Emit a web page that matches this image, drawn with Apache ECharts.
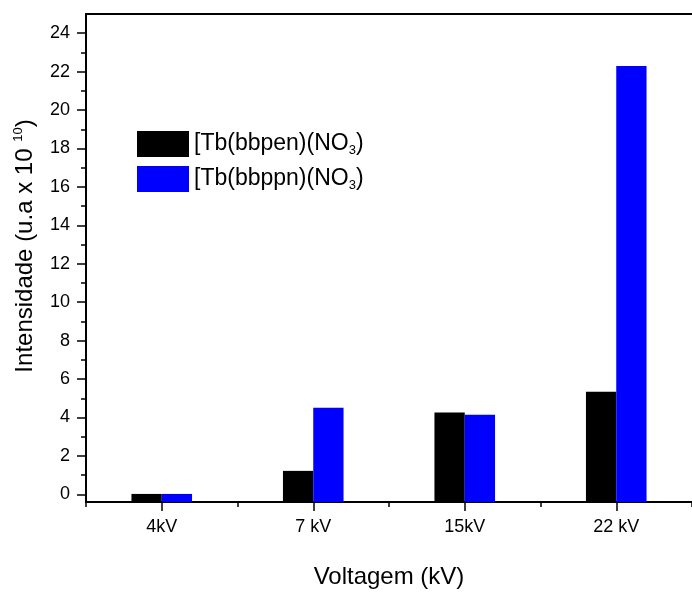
<!DOCTYPE html>
<html>
<head>
<meta charset="utf-8">
<script src="https://cdn.jsdelivr.net/npm/echarts@6/dist/echarts.min.js"></script>
<style>
  html, body { margin: 0; padding: 0; background: #fff; }
  #chart { width: 692px; height: 594px; }
</style>
</head>
<body>
<div id="chart"></div>
<script>
// Voltage steps on the x axis
const voltages = ['4kV', '7 kV', '15kV', '22 kV'];

// Emission intensity (u.a x 10^10) for each complex
const seriesNames = ['[Tb(bbpen)(NO3)', '[Tb(bbppn)(NO3)'];
const bbpenValues = [0.02, 1.22, 4.26, 5.34];
const bbppnValues = [0.02, 4.50, 4.14, 22.29];

// Y axis range, labelled ticks and minor ticks
const yMin = -0.4;
const yMax = 25;
const yMajorTicks = [0, 2, 4, 6, 8, 10, 12, 14, 16, 18, 20, 22, 24];
const yMinorTicks = [1, 3, 5, 7, 9, 11, 13, 15, 17, 19, 21, 23];

const FONT = '"Liberation Sans", Arial, sans-serif';
const AXIS_LINE = { show: true, onZero: false, lineStyle: { color: '#000', width: 2 } };
const TICK_STYLE = { color: '#000', width: 1.5 };

const chart = echarts.init(document.getElementById('chart'), null, { renderer: 'canvas' });

// "NO3" -> NO with subscript 3
function withSubscript(name) {
  return name.replace('NO3', 'NO{sub|3}');
}

chart.setOption({
  animation: false,
  backgroundColor: '#fff',
  textStyle: { fontFamily: FONT },
  grid: { left: 86, top: 14, width: 615, bottom: 87, containLabel: false },
  legend: {
    data: seriesNames,
    orient: 'vertical',
    left: 132,
    top: 126,
    itemWidth: 52,
    itemHeight: 26,
    itemGap: 9,
    icon: 'rect',
    formatter: withSubscript,
    textStyle: {
      fontFamily: FONT,
      fontSize: 23,
      lineHeight: 26,
      color: '#000',
      rich: {
        sub: { fontFamily: FONT, fontSize: 13, color: '#000', verticalAlign: 'bottom', lineHeight: 26, padding: [12, 0, 0, 0] }
      }
    }
  },
  xAxis: [
    {
      type: 'category',
      data: voltages,
      boundaryGap: true,
      axisLine: AXIS_LINE,
      axisTick: { show: true, alignWithLabel: true, length: 9, inside: false, lineStyle: TICK_STYLE },
      axisLabel: { fontFamily: FONT, fontSize: 18, color: '#000', margin: 16 },
      splitLine: { show: false },
      name: 'Voltagem (kV)',
      nameLocation: 'middle',
      nameGap: 63,
      nameTextStyle: { fontFamily: FONT, fontSize: 24, color: '#000' }
    },
    {
      // minor ticks on category boundaries
      type: 'category',
      data: voltages,
      position: 'bottom',
      boundaryGap: true,
      axisLine: { show: false, onZero: false },
      axisTick: { show: true, alignWithLabel: false, length: 5, lineStyle: TICK_STYLE },
      axisLabel: { show: false },
      splitLine: { show: false }
    },
    {
      // top frame
      type: 'category',
      data: voltages,
      position: 'top',
      axisLine: AXIS_LINE,
      axisTick: { show: false },
      axisLabel: { show: false },
      splitLine: { show: false }
    }
  ],
  yAxis: [
    {
      type: 'value',
      min: yMin,
      max: yMax,
      startValue: yMin,
      axisLine: AXIS_LINE,
      axisTick: { show: true, length: 9, customValues: yMajorTicks, lineStyle: TICK_STYLE },
      axisLabel: { fontFamily: FONT, fontSize: 18, color: '#000', margin: 16, customValues: yMajorTicks },
      splitLine: { show: false },
      name: 'Intensidade (u.a x 10 {sup|10})',
      nameLocation: 'middle',
      nameRotate: 90,
      nameGap: 47,
      nameTextStyle: {
        fontFamily: FONT, fontSize: 24, color: '#000',
        padding: [0, 0, 0, 24],
        rich: {
          sup: { fontFamily: FONT, fontSize: 13, color: '#000', verticalAlign: 'top', padding: [0, 0, 14, 0] }
        }
      }
    },
    {
      // minor ticks at odd values
      type: 'value',
      min: yMin,
      max: yMax,
      position: 'left',
      axisLine: { show: false, onZero: false },
      axisTick: { show: true, length: 5, customValues: yMinorTicks, lineStyle: TICK_STYLE },
      axisLabel: { show: false, customValues: yMinorTicks },
      splitLine: { show: false }
    }
  ],
  series: [
    {
      name: seriesNames[0],
      type: 'bar',
      data: bbpenValues,
      itemStyle: { color: '#000000' },
      barGap: '0%',
      barCategoryGap: '60%'
    },
    {
      name: seriesNames[1],
      type: 'bar',
      data: bbppnValues,
      itemStyle: { color: '#0000ff' },
      barGap: '0%',
      barCategoryGap: '60%'
    }
  ]
});
</script>
</body>
</html>
